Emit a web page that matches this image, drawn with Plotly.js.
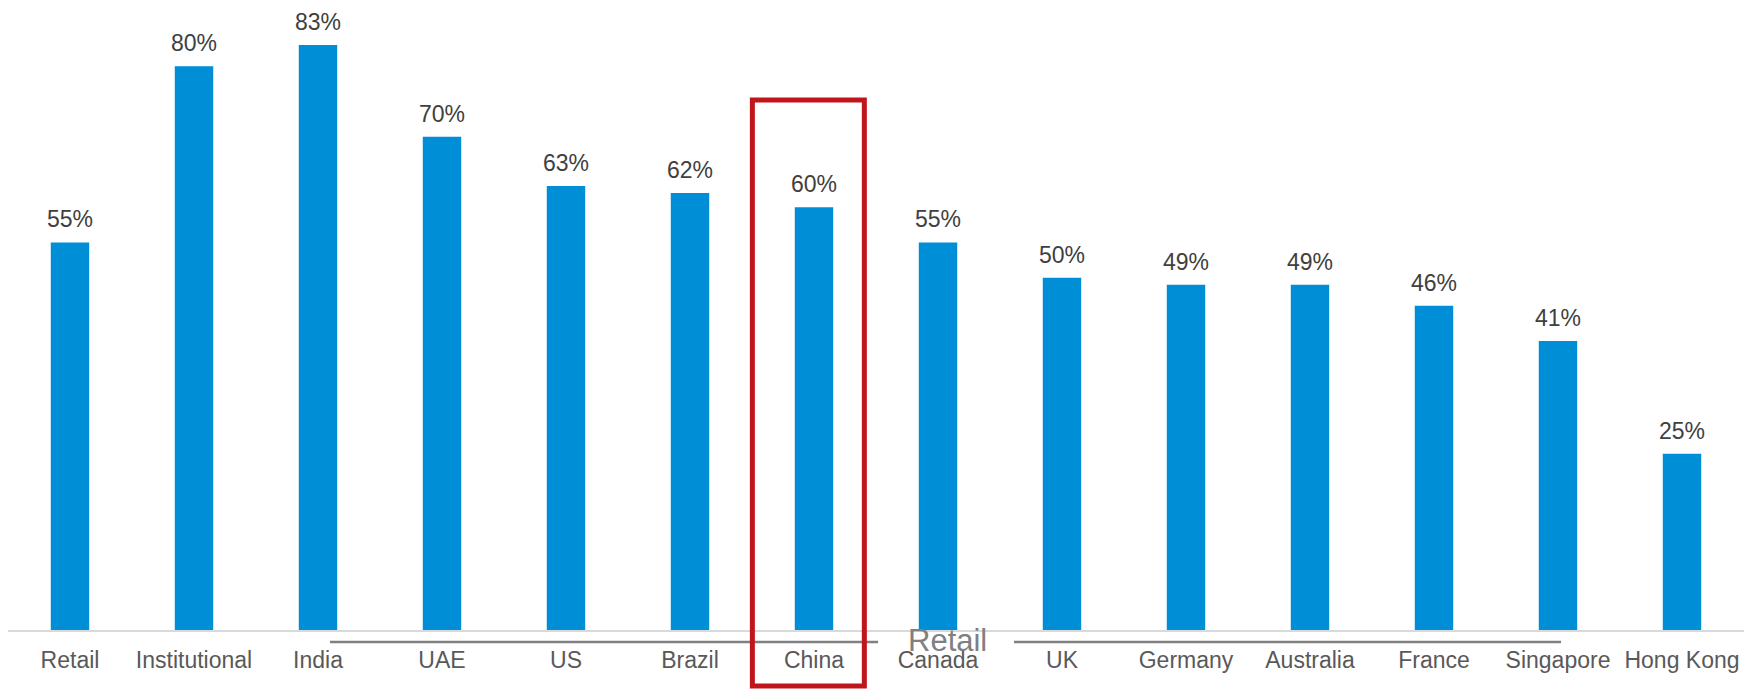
<!DOCTYPE html>
<html>
<head>
<meta charset="utf-8">
<script src="https://cdn.plot.ly/plotly-3.0.1.min.js"></script>
<style>html,body{margin:0;padding:0;background:#fff;}#chart{width:1760px;height:690px;}</style>
</head>
<body>
<div id="chart"></div>
<script>
const categories = ["Retail","Institutional","India","UAE","US","Brazil","China","Canada","UK","Germany","Australia","France","Singapore","Hong Kong"];
const values = [55,80,83,70,63,62,60,55,50,49,49,46,41,25];
const valueLabels = values.map(v => v + "%");
const groupLabel = "Retail";
const highlightCategory = "China";

const FONT = "Liberation Sans, Arial, sans-serif";

const trace = {
  type: "bar",
  x: categories,
  y: values,
  marker: {color: "#008fd6"},
  hoverinfo: "x+y"
};

const annotations = categories.map((c, i) => ({
  x: c, y: values[i], xref: "x", yref: "y",
  text: valueLabels[i], showarrow: false,
  yanchor: "middle", yshift: 23,
  font: {family: FONT, size: 23, color: "#404040"}
}));
annotations.push({
  x: 0.5409, y: -0.0175, xref: "paper", yref: "paper",
  text: groupLabel, showarrow: false, xanchor: "center", yanchor: "middle",
  font: {family: FONT, size: 31, color: "#808080"}
});

const hi = categories.indexOf(highlightCategory);
const shapes = [
  {type: "line", xref: "paper", yref: "paper", x0: 0.1855, x1: 0.5012, y0: -0.02, y1: -0.02,
   line: {color: "#808080", width: 2.5}},
  {type: "line", xref: "paper", yref: "paper", x0: 0.5795, x1: 0.8946, y0: -0.02, y1: -0.02,
   line: {color: "#808080", width: 2.5}},
  {type: "rect", xref: "x", yref: "paper", x0: hi - 0.497, x1: hi + 0.406, y0: -0.0935, y1: 0.8848,
   line: {color: "#c0161b", width: 5}, fillcolor: "rgba(0,0,0,0)"}
];

const layout = {
  width: 1760, height: 690,
  margin: {l: 8, r: 16, t: 31, b: 60},
  paper_bgcolor: "#ffffff", plot_bgcolor: "#ffffff",
  bargap: 0.69,
  showlegend: false,
  font: {family: FONT, color: "#595959"},
  xaxis: {
    type: "category",
    showline: true, linecolor: "#d9d9d9", linewidth: 2,
    showgrid: false, zeroline: false, ticks: "",
    tickfont: {family: FONT, size: 23, color: "#595959"},
    ticklabelstandoff: 8
  },
  yaxis: {range: [0, 85], visible: false, showgrid: false, zeroline: false},
  annotations: annotations,
  shapes: shapes
};

Plotly.newPlot("chart", [trace], layout, {displayModeBar: false, staticPlot: true});
</script>
</body>
</html>
